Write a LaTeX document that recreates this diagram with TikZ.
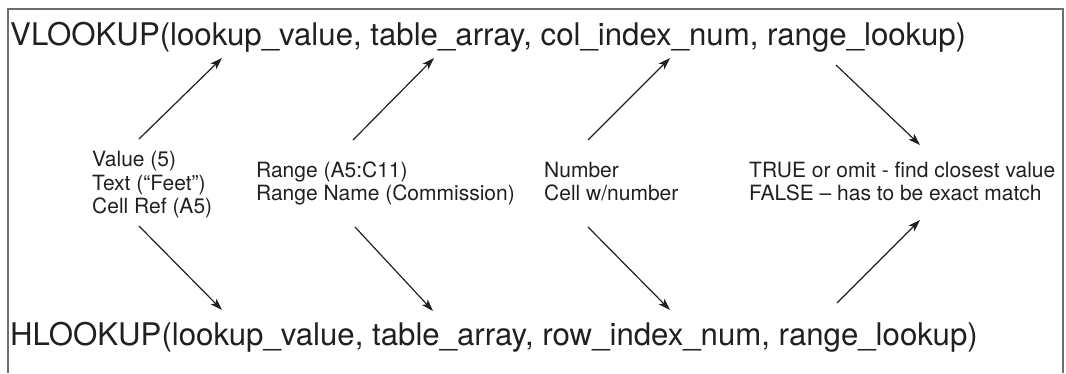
\documentclass[tikz,border=0pt]{standalone}
\usepackage{fontspec}
\setmainfont{TeX Gyre Heros}
\usetikzlibrary{arrows.meta}
\definecolor{ink}{HTML}{231F20}
\definecolor{framegray}{HTML}{6D6E71}
\begin{document}
\begin{tikzpicture}[x=1pt,y=-1pt,
  big/.style={anchor=base west,inner sep=0pt,font=\fontsize{31.2}{36}\selectfont,text=ink},
  small/.style={anchor=base west,inner sep=0pt,font=\fontsize{21}{24}\selectfont,text=ink},
  arr/.style={draw=ink,line width=1.2pt,-{Stealth[length=12pt,width=8pt,inset=3pt]}},
  frameline/.style={draw=framegray,line width=2pt}]
\useasboundingbox (0,0) rectangle (1066,373);
\draw[frameline] (8,373) -- (8,9) -- (1063,9) -- (1063,373);
\node[big] (vl) at (10,45) {VLOOKUP(lookup\_value, table\_array, col\_index\_num, range\_lookup)};
\node[big] (hl) at (10,345) {HLOOKUP(lookup\_value, table\_array, row\_index\_num, range\_lookup)};
\node[small] (v1) at (92,166) {Value (5)};
\node[small] (v2) at (92,190) {Text (“Feet”)};
\node[small] (v3) at (92,213) {Cell Ref (A5)};
\node[small] (r1) at (256,177) {Range (A5:C11)};
\node[small] (r2) at (256,200) {Range Name (Commission)};
\node[small] (n1) at (544,177) {Number};
\node[small] (n2) at (544,200) {Cell w/number};
\node[small] (t1) at (749,177) {TRUE or omit - find closest value};
\node[small] (t2) at (749,200) {FALSE – has to be exact match};
\coordinate (a1s) at (139,139); \coordinate (a1e) at (222,58);
\coordinate (b1s) at (139,226); \coordinate (b1e) at (222,310);
\coordinate (a2s) at (353,140); \coordinate (a2e) at (434,58);
\coordinate (b2s) at (355,227); \coordinate (b2e) at (433,311);
\coordinate (a3s) at (588,140); \coordinate (a3e) at (670,58);
\coordinate (b3s) at (588,227); \coordinate (b3e) at (670,310);
\coordinate (a4s) at (836,65);  \coordinate (a4e) at (920,145);
\coordinate (b4s) at (837,303); \coordinate (b4e) at (920,220);
\foreach \p in {a1,b1,a2,b2,a3,b3,a4,b4} \draw[arr] (\p s) -- (\p e);
\end{tikzpicture}
\end{document}
